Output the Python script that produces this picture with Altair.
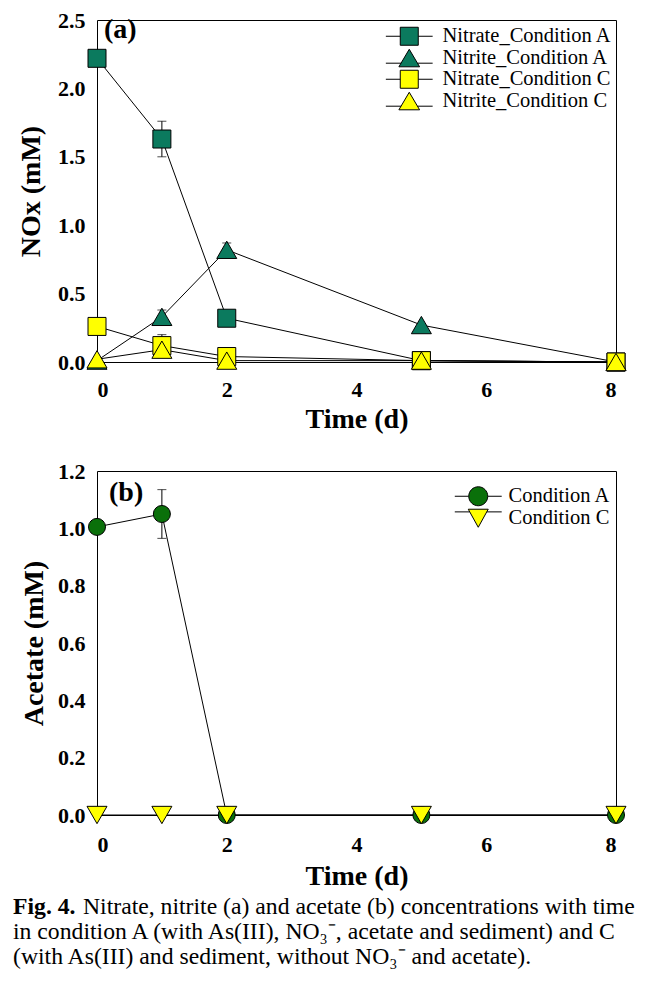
import altair as alt
import pandas as pd

# ---------------- data ----------------
time_days = [0, 1, 2, 5, 8]
x_ticks = [0, 2, 4, 6, 8]

series_a = ["Nitrate_Condition A", "Nitrite_Condition A", "Nitrate_Condition C", "Nitrite_Condition C"]
nitrate_A = [2.22, 1.63, 0.32, 0.01, 0.0]
nitrate_A_err = [0.0, 0.13, 0.0, 0.0, 0.0]
nitrite_A = [0.01, 0.33, 0.82, 0.27, 0.0]
nitrite_A_err = [0.0, 0.05, 0.05, 0.0, 0.0]
nitrate_C = [0.26, 0.12, 0.04, 0.01, 0.0]
nitrate_C_err = [0.0, 0.08, 0.0, 0.0, 0.0]
nitrite_C = [0.02, 0.09, 0.01, 0.01, 0.0]
nitrite_C_err = [0.0, 0.0, 0.0, 0.0, 0.0]
y_ticks_a = [0.0, 0.5, 1.0, 1.5, 2.0, 2.5]

series_b = ["Condition A", "Condition C"]
acetate_A = [1.005, 1.05, 0.0, 0.0, 0.0]
acetate_A_err = [0.0, 0.085, 0.0, 0.0, 0.0]
acetate_C = [0.0, 0.0, 0.0, 0.0, 0.0]
acetate_C_err = [0.0, 0.0, 0.0, 0.0, 0.0]
y_ticks_b = [0.0, 0.2, 0.4, 0.6, 0.8, 1.0, 1.2]

caption_bold = "Fig. 4."
caption_line1 = "Nitrate, nitrite (a) and acetate (b) concentrations with time"
caption_line2 = "in condition A (with As(III), NO\u2083\u207b, acetate and sediment) and C"
caption_line3 = "(with As(III) and sediment, without NO\u2083\u207b and acetate)."

# ---------------- styles ----------------
FONT = "Liberation Serif"
TEAL = "#0B7A5E"
YELLOW = "#FFFF00"
GREEN = "#0A700A"

style_a = {
    "Nitrate_Condition A": (TEAL, "square", 324),
    "Nitrite_Condition A": (TEAL, "triangle-up", 400),
    "Nitrate_Condition C": (YELLOW, "square", 324),
    "Nitrite_Condition C": (YELLOW, "triangle-up", 400),
}
style_b = {
    "Condition A": (GREEN, "circle", 290),
    "Condition C": (YELLOW, "triangle-down", 400),
}

SQ = "M-2.6,0H-1M1,0H2.6M-1,-1H1V1H-1Z"
TRI_UP = "M-2.6,0.55H-0.91M0.91,0.55H2.6M0,-1L1.15,0.95L-1.15,0.95Z"
CIRC = "M-2.47,0H-1M1,0H2.47M1,0A1,1,0,1,1,-1,0A1,1,0,1,1,1,0Z"
TRI_DN = "M-2.47,-0.67H-0.9M0.9,-0.67H2.47M0,0.95L1.05,-0.95L-1.05,-0.95Z"


def build(series_names, values, errs, style):
    rows = []
    for name, vals, ers in zip(series_names, values, errs):
        fill, shape, size = style[name]
        for t, v, e in zip(time_days, vals, ers):
            rows.append({"time": t, "value": v, "err": e, "series": name,
                         "fill": fill, "shape": shape, "size": size,
                         "lo": v - e, "hi": v + e})
    return pd.DataFrame(rows)


df_a = build(series_a, [nitrate_A, nitrite_A, nitrate_C, nitrite_C],
             [nitrate_A_err, nitrite_A_err, nitrate_C_err, nitrite_C_err], style_a)
df_b = build(series_b, [acetate_A, acetate_C], [acetate_A_err, acetate_C_err], style_b)


def panel(df, series_names, style, legend_paths, y_domain, y_ticks, y_title,
          x_label_pad, x_title_pad, y_title_pad, legend_xy, sym_size, label_offset, row_pad,
          tag, tag_xy):
    x_enc = alt.X("time:Q", scale=alt.Scale(domain=[0, 8], nice=False, zero=False),
                  axis=alt.Axis(values=x_ticks, format="d", title="Time (d)",
                                labelPadding=x_label_pad, titlePadding=x_title_pad))
    y_enc = alt.Y("value:Q", scale=alt.Scale(domain=y_domain, nice=False),
                  axis=alt.Axis(values=y_ticks, format=".1f", title=y_title,
                                labelPadding=12, titlePadding=y_title_pad))
    base = alt.Chart(df)
    lines = base.mark_line(color="black", strokeWidth=1).encode(
        x=x_enc, y=y_enc, detail="series:N")
    err_df = df[df["err"] > 0]
    err_base = alt.Chart(err_df)
    err_rules = err_base.mark_rule(color="black", strokeWidth=1).encode(
        x="time:Q", y="lo:Q", y2="hi:Q")
    caps_lo = err_base.mark_tick(color="black", orient="horizontal", size=9, thickness=1).encode(
        x="time:Q", y="lo:Q")
    caps_hi = err_base.mark_tick(color="black", orient="horizontal", size=9, thickness=1).encode(
        x="time:Q", y="hi:Q")
    points = base.mark_point(filled=True, stroke="black", strokeWidth=1, opacity=1).encode(
        x="time:Q", y="value:Q",
        fill=alt.Fill("fill:N", scale=None),
        shape=alt.Shape("shape:N", scale=None),
        size=alt.Size("size:Q", scale=None),
    )
    colors = [style[s][0] for s in series_names]
    leg = dict(orient="none", legendX=legend_xy[0], legendY=legend_xy[1], title=None,
               labelFont=FONT, labelFontSize=20.5, labelColor="black", labelLimit=400,
               symbolSize=sym_size, symbolStrokeColor="black", symbolStrokeWidth=1,
               symbolOpacity=1, labelOffset=label_offset, rowPadding=row_pad, padding=0)
    legend_layer = base.mark_point(filled=True, opacity=0, stroke="black").encode(
        x="time:Q", y="value:Q",
        shape=alt.Shape("series:N", scale=alt.Scale(domain=series_names, range=legend_paths),
                        legend=alt.Legend(**leg)),
        fill=alt.Fill("series:N", scale=alt.Scale(domain=series_names, range=colors),
                      legend=alt.Legend(**leg)),
    )
    tag_layer = alt.Chart(pd.DataFrame({"t": [tag]})).mark_text(
        font=FONT, fontSize=28, fontWeight="bold", align="left", baseline="middle", color="black"
    ).encode(text="t:N", x=alt.value(tag_xy[0]), y=alt.value(tag_xy[1]))
    return [lines, err_rules, caps_lo, caps_hi, points, legend_layer, tag_layer]


layers_a = panel(df_a, series_a, style_a, [SQ, TRI_UP, SQ, TRI_UP], [0, 2.5], y_ticks_a,
                 "NOx (mM)", 17, 5, 12.5, (302, 6), 324, 23, -2, "(a)", (7, 10))
chart_a = alt.layer(*layers_a).properties(width=519, height=342)

layers_b = panel(df_b, series_b, style_b, [CIRC, TRI_DN], [0, 1.2], y_ticks_b,
                 "Acetate (mM)", 19, 7, 9, (371, 15), 361, 20, -1.5, "(b)", (12, 22))

CAP_SIZE = 23.7
cap_df = pd.DataFrame({"t": [caption_bold]})
cap_bold = alt.Chart(cap_df).mark_text(
    font=FONT, fontSize=CAP_SIZE, fontWeight="bold", align="left", baseline="middle", color="black"
).encode(text="t:N", x=alt.value(-84), y=alt.value(436))
cap_lines = []
for txt, xx, yy in [(caption_line1, -14, 436), (caption_line2, -84, 461), (caption_line3, -84, 486)]:
    cap_lines.append(alt.Chart(pd.DataFrame({"t": [txt]})).mark_text(
        font=FONT, fontSize=CAP_SIZE, align="left", baseline="middle", color="black"
    ).encode(text="t:N", x=alt.value(xx), y=alt.value(yy)))

chart_b = alt.layer(*layers_b, cap_bold, *cap_lines).properties(width=519, height=344)

chart = alt.vconcat(chart_a, chart_b, spacing=25).resolve_scale(
    shape="independent", fill="independent"
).resolve_legend(
    shape="independent", fill="independent"
).properties(
    padding={"left": 4, "top": 0, "right": 5, "bottom": 5}
).configure_view(
    stroke="black", strokeWidth=1
).configure_axis(
    grid=False, ticks=False, domain=False,
    labelFont=FONT, labelFontSize=22, labelFontWeight="bold", labelColor="black",
    titleFont=FONT, titleFontSize=28, titleFontWeight="bold", titleColor="black",
)

chart.save("out.html", embed_options={"renderer": "svg", "actions": False})
